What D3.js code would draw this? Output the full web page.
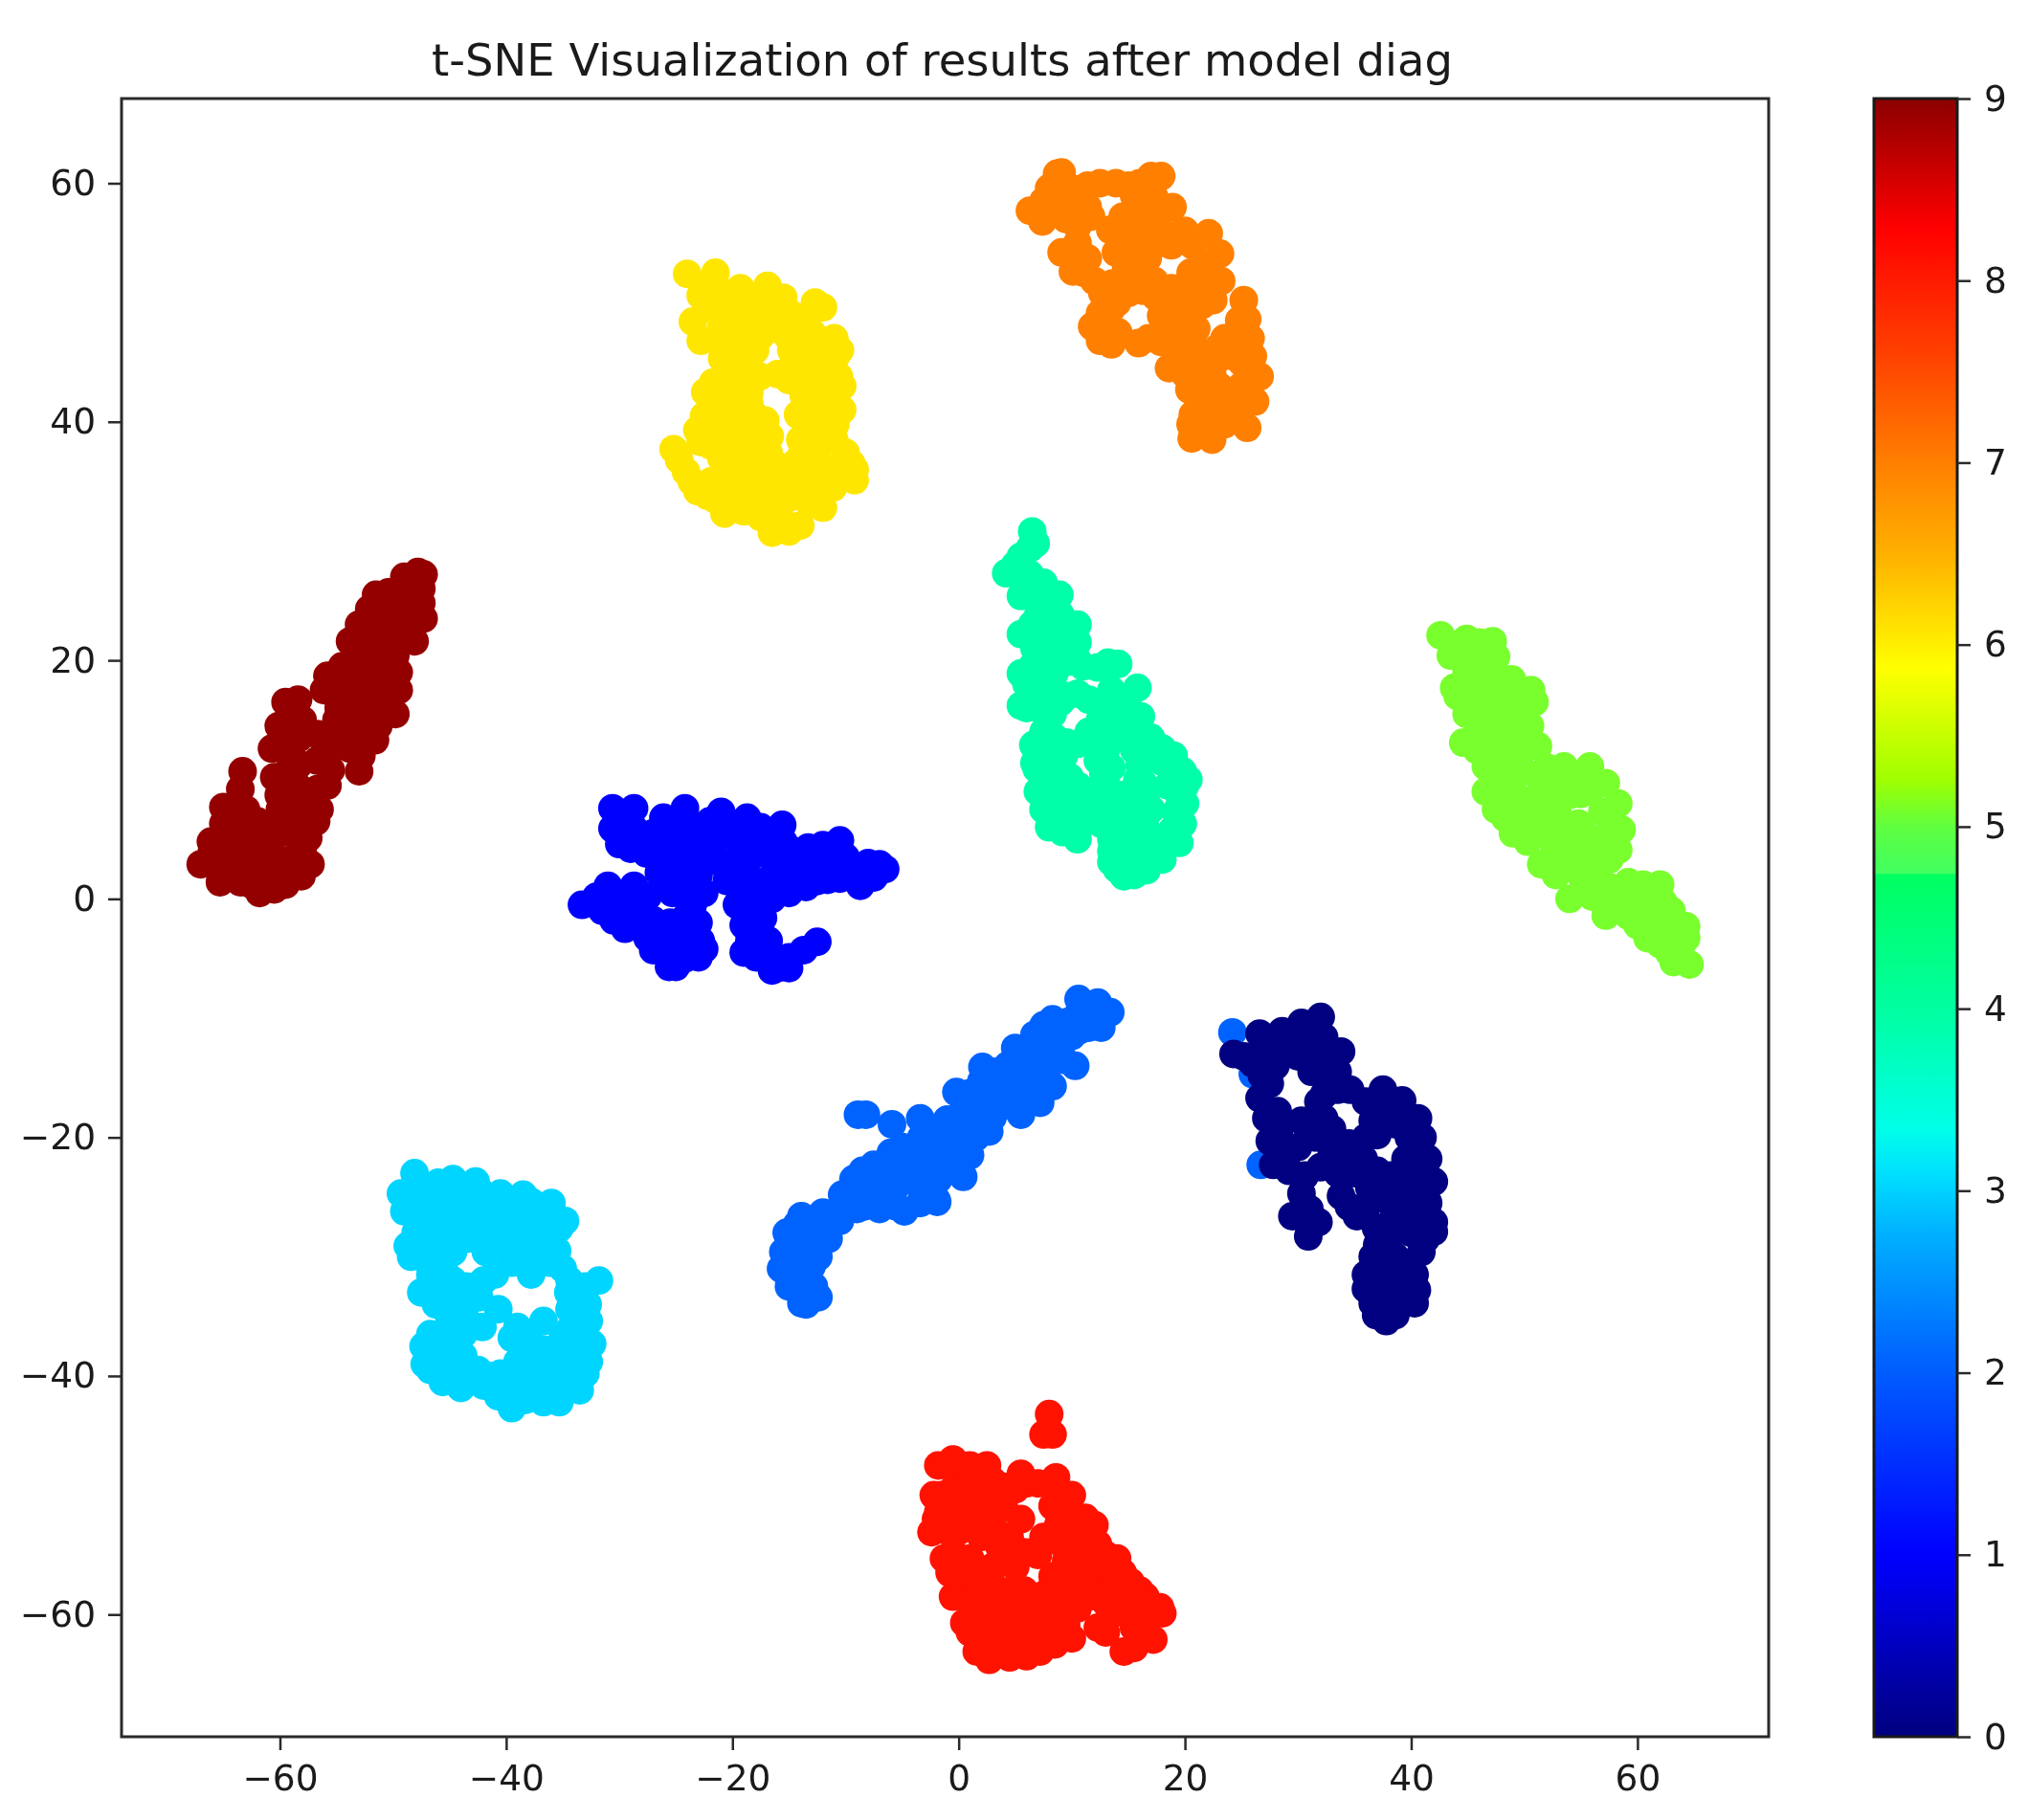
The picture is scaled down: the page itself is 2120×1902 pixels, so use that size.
<!DOCTYPE html>
<html>
<head>
<meta charset="utf-8">
<script src="https://cdn.jsdelivr.net/npm/d3@7/dist/d3.min.js"></script>
<style>
    html, body { margin: 0; padding: 0; background: #fff; }
    svg { display: block; filter: blur(0.7px); }
    text { font-family: "DejaVu Sans"; fill: #1a1a1a; }
    .domain, .tick line { stroke: #2a2a2a; }
</style>
</head>
<body>
<svg id="chart" width="2120" height="1902"></svg>
<script>
    var title = "t-SNE Visualization of results after model diag";
    var xTicks = [-60, -40, -20, 0, 20, 40, 60];
    var yTicks = [-60, -40, -20, 0, 20, 40, 60];
    var barTicks = [0, 1, 2, 3, 4, 5, 6, 7, 8, 9];

    // colorbar (value -> colour)
    var barValues = [0, 1, 2.04, 2.76, 3.1, 3.34, 4, 4.735, 4.745, 5, 5.26, 5.87, 6.5, 7, 7.6, 8.29, 9];
    var barColors = ["#00007f", "#0000ff", "#0060ff", "#00b0ff", "#00e0ff", "#00ffe8", "#00ffa0", "#00ff60", "#40ff60", "#60ff40", "#a0ff00", "#ffff00", "#ffb000", "#ff7f00", "#ff4000", "#ff0000", "#8b0000"];

    var pointColors = ["#000080", "#0000ff", "#0063ff", "#00d5ff", "#00ffa9", "#78ff2d", "#ffe600", "#ff7f00", "#ff1300", "#940000"];

    var digit0 = [[24.3,-13],[26,-13.8],[26.6,-11.3],[28.6,-11.1],[30.3,-10.4],[32,-9.9],[32.3,-11.6],[30.6,-12.5],[27.8,-13],[33.8,-12.8],[33.5,-14.5],[31.2,-14.5],[26.6,-16.7],[27.2,-18.4],[27.5,-20.3],[27.8,-22.3],[32.3,-16.4],[34.6,-16],[32.3,-18.4],[30.3,-18.6],[37.5,-16],[39.2,-16.9],[40.6,-18.4],[36.6,-18.6],[38.6,-18.9],[30,-20.8],[32.9,-20.8],[35.8,-21.8],[40.6,-20.6],[41.5,-21.8],[42,-23.7],[30.6,-23.2],[33.5,-21.3],[30.3,-24.7],[29.5,-26.6],[31.8,-27.1],[30.9,-28.3],[33.8,-24.9],[35.2,-26.6],[36.3,-24.2],[39.2,-23.7],[42,-27.1],[42,-27.9],[39.8,-26.1],[36.9,-27.6],[40.9,-29.6],[36.6,-30],[38.6,-30],[36,-32.7],[40.3,-33.9],[37.8,-35.4],[36.9,-34.9],[38.6,-34.9],[37.5,-33],[39.2,-32],[36.6,-33.9],
        [25.2,-13.2],[27.2,-12],[29,-11.8],[31.3,-10.8],[31.3,-12.5],[28,-14],[26.8,-14.8],[27.5,-15.5],[28.2,-17.8],[32,-13.5],[32.5,-15],[33.5,-16],[31.8,-17],[28.3,-19.5],[29,-21.5],[29.2,-22.8],[31.5,-20],[31.2,-19],[33,-19.3],[34.5,-20.5],[34.8,-21],[36,-20],[37,-19.8],[36,-17],[37.8,-17.5],[39.8,-18.5],[39.8,-20],[39.5,-21.8],[40.5,-22.5],[41,-24],[32,-22.5],[33.5,-23],[35,-23],[37,-22.8],[38.2,-23.2],[37.8,-25.2],[40.5,-25],[41,-26.5],[38.3,-27],[40,-28],[41.3,-28.5],[38,-28.5],[37,-29],[36,-26],[34.5,-25.8],[31,-26],[30.5,-26.8],[38.5,-31.2],[37,-31.5],[40.3,-31.5],[40,-30.5],[39.5,-33.5],[38.5,-33],[38,-34],[39.2,-25],
        [30,-13.2],[41,-20],[41.5,-25.5],[36,-31.5],[40.5,-32.8]];
    var digit1 = [[-30.6,7.6],[-28.7,7.6],[-30.6,5.9],[-28.7,5.9],[-30,4.6],[-26.1,6.8],[-24.2,7.6],[-24.7,5.4],[-27.6,3.8],[-26.5,2.2],[-23,5.9],[-21,7.3],[-18.7,6.8],[-15.6,6.2],[-19.6,4.9],[-22.5,3.8],[-17.3,3.8],[-19,2.2],[-13.3,4.3],[-10.5,4.9],[-11.6,3.2],[-7,2.9],[-6.5,2.5],[-9.3,2.5],[-15,1.6],[-13.9,2.5],[-17.3,1.1],[-8.7,1.1],[-11.6,1.6],[-33.3,-0.5],[-31,1.1],[-28.7,1.1],[-30.5,-1.8],[-28.2,-1.1],[-26.5,-2.7],[-27,-4.3],[-25.6,-5.7],[-24.2,-1.6],[-23,-4.9],[-24.8,-3.8],[-23.6,-2.7],[-22.5,0.5],[-25.3,0.5],[-19.6,-0.5],[-19,-2.2],[-17.9,-4.9],[-16.5,-6],[-15,-4.9],[-13.7,-4.3],[-12.5,-3.6],[-18.5,0.5],[-17.3,-1.6],
        [-29.5,7],[-29.5,5],[-29,4.2],[-27,5.5],[-25.5,6],[-25.5,4.5],[-24,4.3],[-26.3,3.2],[-25,2.8],[-22,6.5],[-20,6],[-21.5,5],[-19,5.5],[-17.5,6],[-16.5,5.5],[-18,4.5],[-21,3],[-20,3],[-20.5,1.5],[-18,1.5],[-16.2,2.8],[-15.2,3.5],[-14.5,4],[-12.5,3],[-11,2.5],[-10,3.5],[-8,3],[-10.5,1.7],[-12.5,1.5],[-13.5,1],[-15,0.5],[-16.5,0],[-18.5,-1],[-17.8,-3],[-18.5,-3.5],[-16.5,-5],[-16.8,-3.5],[-32,0.2],[-30,0],[-29.5,-0.5],[-27.5,0.2],[-27,-1.8],[-29.3,-1.8],[-25.5,-2],[-25.7,-4.5],[-24.2,-5],[-22.8,-3.5],[-24,0],[-23.5,-0.5],[-26,1],[-23,2],[-24.5,1.8],
        [-21,5.8],[-22,4.5],[-23.5,3.2],[-18.8,3],[-15.5,4.8],[-16.3,4],[-12,4.5],[-8.5,2.2],[-7.5,1.8],[-31.5,-1],[-29.5,-2.5],[-26,-3.5],[-27.5,-3.3],[-25,-5.7],[-23,-2],[-22.5,-4.2],[-24,-4.5],[-16,-5.8],[-19,-4.5],[-15,-5.8]];
    var digit2 = [[24.2,-11.2],[26,-14.7],[26.7,-22.3],[-13.9,-33.9],[-12.4,-33.4],[-15.3,-31.3],[-15.5,-29.6],[-13.9,-26.6],[-12.4,-30],[-14,-31],[-13,-28],[-14.5,-28.5],[-11.5,-28.5],[-12,-26.3],[-10.5,-27],[-10.3,-24.8],[-11,-26.5],[-9,-26],[-9.3,-23.5],[-8.8,-24.8],[-7.5,-22.3],[-8,-24],[-6.9,-24.7],[-6,-21.3],[-5.6,-24.2],[-4.8,-26.2],[-3.4,-25.5],[-4.7,-22.8],[-3.5,-22.5],[-2,-25.2],[-2.6,-21],[-1.6,-22],[-0.5,-20],[0.4,-23.3],[1,-21.5],[2.7,-19.5],[0.5,-17.5],[2,-16.5],[1.5,-18.5],[3,-14.5],[4.4,-17.3],[5,-15.5],[6,-14],[6.5,-16.5],[7.2,-17.1],[8.3,-15.7],[7,-13],[7.5,-10.6],[8.3,-10.1],[9,-12.5],[10.3,-14],[10,-11.5],[10.6,-8.4],[10.6,-9.6],[12.3,-8.7],[13.4,-9.5],[12.6,-10.8],[5.5,-18.1],[5.7,-13.5],[-8.2,-18.1],[-8.9,-18.1],[-5.9,-18.9],[-3.4,-18.4],[-0.2,-16.2],[2.1,-14.1],[6.7,-11.4],[-1.9,-25.4],
        [-15,-32.5],[-14.3,-32.8],[-13.2,-32.2],[-13,-30.8],[-15,-30],[-13.5,-29.5],[-12.5,-27.5],[-14.3,-27.3],[-11.2,-27.2],[-10,-26],[-9.8,-25.2],[-8.4,-25.8],[-7.7,-23],[-8.5,-22.8],[-7,-23.3],[-6.3,-22.5],[-5,-20.8],[-5.2,-21.8],[-4,-21],[-6,-25.5],[-5.5,-25.8],[-3.5,-24],[-2.5,-23.5],[-1.8,-23.5],[-2.3,-19.5],[-1,-18.5],[-3.3,-20],[-0.8,-21.5],[0.3,-21],[-0.3,-19],[0.8,-19.7],[1.5,-20],[1,-16.3],[2,-15.3],[3.4,-16.3],[3.5,-15],[4.3,-14],[5.3,-14.2],[5,-12.5],[6,-12.5],[7,-11.8],[8,-12.5],[8.5,-13.5],[8.4,-11.5],[9.7,-10.3],[10.7,-11],[11.5,-9.5],[11.5,-10.8],[9.3,-13.5],[7.5,-14.5],[6,-15.8],[5,-17],[3,-18.3],[3.5,-17],
        [-15.7,-31],[-12.8,-32.5],[-13.5,-34],[-15.2,-28],[-7,-26]];
    var digit3 = [[-48.1,-23],[-49.3,-24.7],[-49,-26.2],[-47,-24.2],[-44.7,-23.5],[-42.7,-23.7],[-42.1,-24.7],[-45.3,-25.7],[-43,-26.2],[-39.5,-25.7],[-37.8,-25.4],[-36.1,-26.4],[-35.3,-27.6],[-40.1,-27.1],[-37.8,-27.6],[-48.7,-29.1],[-48.4,-30],[-47,-28.6],[-44.7,-29.6],[-47.5,-33],[-46.7,-31.5],[-44.7,-32],[-44.7,-33.9],[-41.8,-29.6],[-39.5,-30.5],[-37.8,-31.5],[-36.1,-30.5],[-31.8,-32],[-34.4,-32],[-40.7,-34.4],[-42.1,-35.9],[-42.4,-33.4],[-45.3,-36.8],[-46.7,-38.3],[-46.7,-39.5],[-45.6,-40.5],[-43.8,-38.3],[-43.3,-40.2],[-41.5,-40],[-44.7,-39.3],[-39.5,-36.8],[-39,-35.9],[-36.7,-35.4],[-34.4,-34.4],[-32.7,-35.4],[-32.4,-37.3],[-32.7,-38.8],[-36.7,-37.8],[-39,-38.8],[-35,-36.8],[-39.5,-42.7],[-40.7,-41.7],[-36.7,-42.2],[-35.3,-42.2],[-33.5,-41.2],[-37.8,-40.7],[-39,-41.2],[-34.7,-40.2],[-34.1,-38.3],
        [-47.5,-25.5],[-46,-25.5],[-48,-24.5],[-46,-23.8],[-44,-24.5],[-41,-26.3],[-38.8,-26.5],[-37,-26.8],[-36.5,-28],[-41.5,-27.5],[-42.5,-27.5],[-47.5,-27],[-44,-27.5],[-43.5,-28.5],[-46,-30],[-47,-30.3],[-45.5,-31],[-47,-33],[-46,-33],[-43.5,-32.5],[-43.7,-34.5],[-42,-32],[-41,-31.5],[-40.8,-29],[-39,-28.5],[-38,-29.5],[-37,-29],[-35.5,-29.5],[-35,-31],[-34.5,-33],[-33.3,-33.5],[-33.5,-36],[-34.3,-36],[-38,-36.5],[-38,-38],[-37.5,-39.5],[-36,-39.5],[-35.5,-41],[-36.7,-41],[-34.2,-41],[-33,-39.8],[-34,-37],[-33.3,-38],[-45.8,-38],[-45.5,-39],[-44.5,-37.5],[-43.8,-36.5],[-45,-40.2],[-38.3,-42],[-38.5,-40],[-40,-40],[-40.5,-39.8],[-35.8,-38.5],
        [-44.5,-26.5],[-45.5,-24],[-46.5,-26.5],[-42,-29],[-48,-28],[-47.8,-29.5],[-46,-28],[-45.5,-34.3],[-46.2,-34],[-41.5,-25.5],[-40.5,-24.7],[-38.5,-24.8],[-36,-25.5],[-34.8,-27],[-33,-32.5],[-32.8,-34],[-47.3,-37.5],[-46,-37],[-45,-35.5],[-44,-41],[-42.5,-39.5],[-42,-40.8],[-44.3,-36],[-47.2,-39],[-46.7,-36.5]];
    var digit4 = [[6.5,30.8],[6.3,29.4],[6.3,27.2],[6.6,25.2],[8.9,25.5],[10,22.6],[7.8,22.3],[9.8,19.9],[14.1,19.7],[12.3,19.4],[15.8,17.7],[13.5,17.5],[16.1,15.3],[13.5,15.3],[8.3,18],[6,18],[6,16],[8.3,15.5],[6.6,12.9],[6.9,10.9],[9.5,13.1],[12.3,13.6],[14.6,13.6],[18,12.6],[19.8,10.7],[19.5,8.7],[18.9,5.8],[19.2,7.3],[17.2,4.3],[16.6,2.4],[14.6,1.9],[13.5,3.1],[16,11.2],[16,7.8],[14.6,5.3],[12.3,11.6],[12.6,9.2],[9.5,8.7],[8.6,7.3],[9.2,5.6],[10.9,6.3],[12.6,6.3],[14.6,8.2],[16.3,9.7],[9.8,10.2],[8.3,12.1],[4.2,27.3],[5.5,28.7],[5.5,25.4],[5.5,22.2],[5.5,18.9],[5.5,16.2],[6.7,11.4],[6.7,21],[7.8,23.3],[9,20.5],
        [6.8,29.8],[5,28],[6,26.5],[7.5,26.5],[7,25],[7,23.7],[8,24.5],[9,23.8],[6.5,23],[9,22],[10.5,23],[10.5,21.5],[8,21],[9.5,21],[6.5,19.5],[7.5,19.5],[8.5,19],[10.5,20],[11,19.5],[13.2,19.8],[7,17],[9.5,17],[10.5,17.2],[11.5,16.7],[12.7,16.5],[14.5,16.8],[15,16],[7,16],[9,16.5],[12.5,15],[11.5,14],[13.5,14.5],[7.5,14],[8.5,13.5],[10.5,13],[9.3,12],[7.8,11],[8.8,11],[13,12.5],[15.5,12.5],[16.5,12.8],[18,11.5],[19,12],[12.8,10.5],[13.5,11],[15.8,10],[10.5,9.5],[11.5,9],[13.5,9],[15.3,9],[16.5,8.5],[17,7.5],[11,7.8],[12.5,7.5],[14,7.2],[14.8,7],[8,8],[8,6],[10,7],[10.5,5],[13.5,5],[15.5,6],[16.5,6],[13.5,4],[15.5,3.5],[16,4.8],[18,5],[14,2.5],[15.5,2],[18.5,9.5],[20,9.5],
        [20.3,10],[20,8],[19.8,6.3],[19.5,4.7],[18,3.3],[17,13.5],[15,14.7],[7,9],[7.5,7.5],[8,9.5]];
    var digit5 = [[42.6,22.1],[44.9,21.8],[47.2,21.6],[43.5,20.4],[46.6,20.4],[44.9,19],[48.9,18.4],[50.6,17.5],[50.9,16.5],[44.1,17],[46.6,17],[44.9,15.5],[48.9,15.3],[44.6,13.1],[47.2,13.1],[51.2,12.8],[46.6,11.1],[50,10.7],[46.6,9],[55.8,11.1],[53.5,11.1],[57.2,9.7],[58.3,8],[56.9,7.3],[58.6,5.8],[58.3,4.1],[50.6,8.2],[54,8.7],[48.3,6.8],[51.8,5.8],[54,5.3],[50.3,4.8],[51.5,2.9],[54,2.9],[56.3,4.8],[56.3,2.4],[59.2,1.4],[62,1.2],[62.3,-0.3],[54,0],[56.9,0],[59.8,0],[64.6,-5.5],[63.2,-5.3],[64.3,-3.3],[64.3,-2.3],[60.9,-3.3],[62,-3.8],[62,-2.1],[57.2,-1.4],[59.2,-1.4],
        [44,21.3],[46,21.5],[45.5,20],[47.5,20.3],[44.6,20],[46,19],[47.5,19],[48,17.5],[49.5,17],[45.5,17.8],[49.5,16],[47.5,16],[46,15.5],[43.8,17.7],[47.5,14.7],[46,14.2],[50.5,14.5],[49,13.5],[45.8,12.5],[49.5,12],[48,11.8],[48.2,10],[49,9],[47.8,8.5],[47.5,7.5],[52,11],[51.5,9.5],[53,10],[54.8,10],[56.2,9.5],[52.5,8],[53,7],[49.5,7],[51,6.8],[53,6],[55,8.8],[54.8,6.3],[55.5,5.3],[57.5,5.5],[57.5,3.3],[52.7,4.3],[49,5.5],[55,3.8],[52.8,2],[52.5,3.5],[55,2],[55.3,0.8],[57.5,1],[58,0],[61,0.5],[60.5,1.2],[61,-1],[60,-2.2],[58.2,-0.8],[63,-1],[63.2,-3],[62.8,-4.5],[63.8,-4.5],[61.5,-2.5],[56,0.2]];
    var digit6 = [[-24,52.4],[-21.5,52.5],[-19.3,51.2],[-16.9,51.4],[-15.5,50.4],[-12.7,50],[-12,49.6],[-22.8,50.6],[-23.5,48.4],[-22.8,46.8],[-20.7,50.8],[-18.2,50],[-15.9,48.6],[-20.4,48.6],[-17.9,48.4],[-14.5,47.8],[-12,46.8],[-10.9,45.4],[-10.6,43.8],[-10.3,43],[-13.1,46.5],[-14.8,46],[-14.2,43.8],[-12,42.8],[-13.7,42.2],[-20.9,45.3],[-18.7,45.7],[-20.7,43.6],[-22.4,42.5],[-19,43.3],[-17.6,43.8],[-21,42],[-19.9,41.1],[-23.1,39.3],[-21.6,39.5],[-17.1,40.1],[-19.9,39.5],[-18.2,39],[-21.9,38],[-25.2,37.7],[-24.1,35.8],[-23.1,34.2],[-21.9,35],[-20.7,32.3],[-19.9,33.1],[-20.2,36.3],[-18.5,37.1],[-16.8,37.4],[-16.8,35.3],[-17.1,33.1],[-16.5,30.7],[-14,31.3],[-14.8,33.7],[-13.7,35.8],[-14,38.5],[-14.2,40.6],[-12,40.1],[-10.9,39.8],[-10,37.4],[-9.2,35.1],[-11.1,34.5],[-12.3,36.3],[-12.5,37.4],[-19,34.2],[-13.1,33.1],
        [-22.2,51.5],[-20.2,50],[-22,49.5],[-21,47.8],[-19.2,48],[-21.5,47],[-19,47],[-17.5,47.2],[-18,46],[-19.5,46.2],[-16.5,49.5],[-16.3,47.8],[-14.8,49],[-13.5,48.2],[-15,47],[-13,47.5],[-12.5,45.5],[-11.5,44.2],[-13,44.8],[-14,45],[-14.8,44.5],[-13,43.3],[-11.2,42],[-12.8,41.2],[-13.5,40.8],[-13,39.5],[-11.8,38.5],[-13,38],[-11,38.5],[-10.8,36],[-12,35],[-13,34.5],[-14.5,36.5],[-14,37],[-15.5,34.5],[-16,36.3],[-15.8,32],[-15,30.8],[-17.5,32],[-18.2,34],[-18,36],[-19.5,38],[-21,37],[-20,35],[-21.5,33.5],[-19,32.5],[-24.7,36.8],[-23.6,35],[-22.2,33.8],[-22.5,40.5],[-21,41],[-22.3,39],[-20.5,38.5],[-22.8,38.3],[-20,42.5],[-18.5,41.5],[-18.5,42.5],[-18,40.5],[-16.7,38.8],[-17.5,37.8],[-19,36],[-20,44.5],[-21.7,43.3],[-18.5,44.5],[-16,44],[-15,43.5],
        [-11,47],[-10.5,46],[-10.3,41],[-9.5,36.5],[-9.2,36],[-12,32.8]];
    var digit7 = [[6.3,57.7],[7.4,56.8],[8,59.6],[9.1,60.9],[8.7,60.8],[9.7,58.5],[11.4,59.8],[13.9,60],[17,60.6],[17.9,60.6],[17.3,58.8],[18.9,58],[15.6,57.2],[10.5,56.4],[11.4,58],[9.1,54.2],[10.1,52.6],[11.4,53.7],[13.4,56.1],[13.9,54.2],[15.6,55.3],[17.3,56.4],[16.7,53.7],[15.1,52.1],[13.6,51.6],[19,55.6],[20.7,54.8],[22.1,55.8],[23.1,54.1],[21.8,53.1],[23.2,51.8],[21.3,51.8],[22.5,50.2],[25.2,50.2],[25.5,48.6],[25.8,47],[12.5,49.1],[12.7,50.8],[12.5,46.8],[14.1,47.5],[15.9,46.6],[18.6,50.2],[17.9,48.9],[19.8,50.5],[20.4,48.3],[19,47.3],[18.6,44.5],[17.9,46.7],[20.7,46.5],[22.9,46.2],[24.6,46.2],[26.6,43.8],[26.2,41.7],[25.5,39.5],[24.1,42.5],[22.4,44.1],[20.4,42.7],[20.7,40.6],[20.6,38.6],[22.4,38.5],[22.9,40.3],[24.6,40.6],[25.8,44.1],[21.5,41.9],
        [7.5,58.5],[8.5,57.5],[9.2,59.5],[10.5,59.5],[10.3,58],[12.5,60],[15,59.8],[16,60],[15.5,59],[16.3,58],[17.8,57.5],[16.2,57],[9.5,57],[11.7,57.2],[10.5,55],[10,54],[11,52.5],[12,51.8],[14.5,57.2],[14.8,55.8],[14.5,54],[14.8,53],[16,52.5],[16.5,54.8],[18,55],[18.8,54.8],[20,56],[17.3,51.8],[16.2,51],[15,50.8],[14,50],[13.2,48],[11.8,48],[13.5,49.5],[13.5,46.5],[17.4,50.5],[18.8,51.2],[20.5,52.5],[21,50],[21.5,49.8],[21,47.8],[19.3,49],[18.5,47.8],[16.8,47],[19.5,45.5],[21.5,45],[23.5,45.5],[24.8,48.5],[24.5,47.2],[23.5,47],[25,45],[26,45.5],[25,43],[23,43],[21.5,43.5],[20,44],[22,42.5],[25,41.7],[23.5,41.2],[21.8,40.8],[20.5,39.8],[23.5,39.8],[21.5,39.3]];
    var digit8 = [[8,-43.2],[7.5,-44.9],[8.3,-44.9],[6,-49],[8.6,-48.5],[10,-50],[11.2,-51.9],[12.3,-54.1],[14,-55.3],[15.2,-57.3],[17.8,-59.4],[18,-59.9],[17.2,-62.1],[14.6,-63.1],[12.3,-61.1],[15.5,-61.1],[9.5,-60.9],[7.2,-63.1],[8.3,-56.8],[10.6,-56.8],[12.9,-57.7],[6,-54.8],[8.9,-53.9],[8.3,-50.9],[-1.8,-47.5],[1,-47.5],[2.7,-49],[-1.5,-50],[-1.8,-51.4],[-2.4,-53.1],[-1.3,-55.3],[1,-52.4],[-0.1,-57.3],[0.5,-60.7],[1.6,-63.1],[2.7,-63.8],[2.2,-58.2],[1,-55.3],[3.6,-54.3],[4.5,-63.6],[3.9,-60.7],[1.5,-50],[5.5,-48.2],[4,-51],[5.5,-52],[5.8,-58],[5,-61],[7,-60],[5,-56],[3,-56],
        [0,-48.5],[-0.5,-49.5],[0.5,-50],[1,-49],[2.3,-47.8],[3,-50],[-0.5,-51.5],[1,-51],[2.5,-51.5],[3,-52.5],[-1,-53],[0,-53],[2,-53.5],[-0.5,-54.8],[0.3,-56],[-0.8,-56.5],[1.5,-57],[3,-57.5],[-0.5,-58.5],[1,-59],[2,-60],[1,-61.5],[3,-62],[4,-62],[5.5,-62.5],[6,-63.5],[8.5,-62.5],[7.5,-61.5],[8.5,-59.5],[10.5,-59.5],[11.5,-58.5],[14,-58.5],[15,-59],[16,-60],[13.5,-60],[13,-61.5],[16.5,-60.5],[11,-55],[9.5,-55.5],[12.5,-56],[7,-55],[7.5,-53.5],[4.5,-53.5],[5,-49.5],[7,-49],[8.8,-49.8],[9.3,-51.5],[10,-53],[8.8,-52.5],[4.7,-58],[3.8,-59],[6,-59.5],[7,-58.5],[8,-58],[9.7,-58],[11,-57],[13.5,-56.8],[6.5,-61],[3.8,-55.5],[5,-54.5],[3,-48.8],[4,-49.3],
        [16.5,-58.5],[13,-59],[15.5,-62.8],[-2,-52],[-2.2,-50],[-1,-47.5],[-0.5,-47],[2.5,-47.5],[12,-52.5],[11,-53.3],[13,-55],[14.5,-56.5],[16,-58],[10,-62]];
    var digit9 = [[-47.8,27.4],[-47.3,27.2],[-47.5,24.8],[-50.4,25.7],[-52.1,24.3],[-52.4,23.1],[-49.3,23.8],[-48.1,21.6],[-53.8,21.6],[-51,21.8],[-49.8,20.4],[-52.7,19.9],[-55.8,18.7],[-56.1,17.5],[-50.4,18.4],[-53.3,17.5],[-50.7,15.5],[-53.8,15],[-55,18],[-51.6,13.3],[-53,10.7],[-53.8,12.6],[-59.5,16.5],[-58.4,16.7],[-60.1,14.5],[-60.7,12.6],[-56.7,13.8],[-56.7,11.6],[-59.3,10.7],[-63.3,10.7],[-63.5,9.2],[-65,7.7],[-65,6.3],[-56.7,9.2],[-60.1,8.7],[-57.8,6.8],[-60.7,6.3],[-57.5,5.1],[-66.1,4.8],[-67,2.9],[-63.5,4.3],[-60.7,3.9],[-57.3,2.9],[-65.3,1.4],[-61.8,2.4],[-59.5,1.2],[-58.1,1.9],[-61.8,0.5],[-63.5,1.4],[-55,15],
        [-48.5,26.5],[-49,25],[-50.5,24.3],[-51,23],[-49.7,22.5],[-52.5,22],[-51.5,20.5],[-53,20.8],[-50.8,19.5],[-54.5,19.5],[-54,18.5],[-52,18.5],[-55,17],[-52.5,16.3],[-51,16.8],[-54.8,16],[-52.3,14.5],[-54.5,14],[-53,13.5],[-52.8,12],[-55.5,12.5],[-58,15],[-59,15.2],[-59.5,13],[-58.3,13.5],[-58.3,11.3],[-58.5,9.5],[-60.5,10.2],[-55.5,10.8],[-55.8,9.5],[-58.5,8],[-56.5,7.5],[-60,7.5],[-59,5.5],[-62,5.2],[-64,5.5],[-65,3.2],[-63,3],[-61.3,4.8],[-59.2,3.2],[-58,4],[-66,3.5],[-64,2.2],[-60.3,2],[-62.5,1.2],[-60.5,0.8],[-60.5,2.8],[-56.8,6.5],[-64.5,7],
        [-66,4],[-64.5,4.5],[-62.8,5],[-62.5,4],[-61,6],[-61.5,3],[-59,6.8],[-62,6.5],[-63,7.5],[-47.5,26],[-48.5,24],[-49,27],[-51.5,25.5],[-53,23],[-47.3,23.5],[-48.5,22.5],[-49.5,19],[-49.5,17.5],[-49.8,15.5],[-51.3,14.5]];

    // 2 goes under 0: its stray points sit behind the navy cluster
    var drawOrder = [2, 0, 1, 3, 4, 5, 6, 7, 8, 9];
    var clusters = [digit0, digit1, digit2, digit3, digit4, digit5, digit6, digit7, digit8, digit9];

    function drawChart() {
        var left = 127, right = 1848, top = 103, bottom = 1815;
        var barLeft = 1958, barRight = 2045;
        var radius = 15, fontSize = 37.5, tickSize = 14;

        var svg = d3.select("#chart");

        var x = d3.scaleLinear().domain([-74, 71.6]).range([left, right]);
        var y = d3.scaleLinear().domain([-70.25, 67.1]).range([bottom, top]);
        var yBar = d3.scaleLinear().domain([0, 9]).range([bottom, top]);

        svg.append("text")
            .attr("x", (left + right) / 2 - 3)
            .attr("y", 79)
            .attr("text-anchor", "middle")
            .attr("font-size", 46.5)
            .text(title);

        var points = svg.append("g");
        drawOrder.forEach(function (label) {
            points.append("g")
                .attr("fill", pointColors[label])
                .selectAll("circle")
                .data(clusters[label])
                .enter().append("circle")
                .attr("cx", function (d) { return x(d[0]); })
                .attr("cy", function (d) { return y(d[1]); })
                .attr("r", radius);
        });

        svg.append("rect")
            .attr("x", left)
            .attr("y", top)
            .attr("width", right - left)
            .attr("height", bottom - top)
            .attr("fill", "none")
            .attr("stroke", "#2a2a2a")
            .attr("stroke-width", 3);

        var xAxis = svg.append("g")
            .attr("transform", "translate(0 " + bottom + ")")
            .call(d3.axisBottom(x).tickValues(xTicks).tickSize(tickSize).tickPadding(15));
        var yAxis = svg.append("g")
            .attr("transform", "translate(" + left + " 0)")
            .call(d3.axisLeft(y).tickValues(yTicks).tickSize(tickSize).tickPadding(13));

        // colorbar
        var gradient = svg.append("defs").append("linearGradient")
            .attr("id", "jet")
            .attr("x1", 0).attr("y1", 1)
            .attr("x2", 0).attr("y2", 0);
        gradient.selectAll("stop")
            .data(barValues)
            .enter().append("stop")
            .attr("offset", function (d) { return d / 9; })
            .attr("stop-color", function (d, i) { return barColors[i]; });

        svg.append("rect")
            .attr("x", barLeft)
            .attr("y", top)
            .attr("width", barRight - barLeft)
            .attr("height", bottom - top)
            .attr("fill", "url(#jet)")
            .attr("stroke", "#1a1a1a")
            .attr("stroke-width", 3);

        var barAxis = svg.append("g")
            .attr("transform", "translate(" + barRight + " 0)")
            .call(d3.axisRight(yBar).tickValues(barTicks).tickFormat(d3.format("d")).tickSize(tickSize).tickPadding(14));

        [xAxis, yAxis, barAxis].forEach(function (axis) {
            axis.attr("font-family", null).attr("font-size", fontSize);
            axis.select(".domain").remove();
            axis.selectAll(".tick line").attr("stroke-width", 2.5).attr("stroke", "#2a2a2a");
            axis.selectAll(".tick text").attr("fill", "#1a1a1a");
        });
    }

    drawChart();
</script>
</body>
</html>
